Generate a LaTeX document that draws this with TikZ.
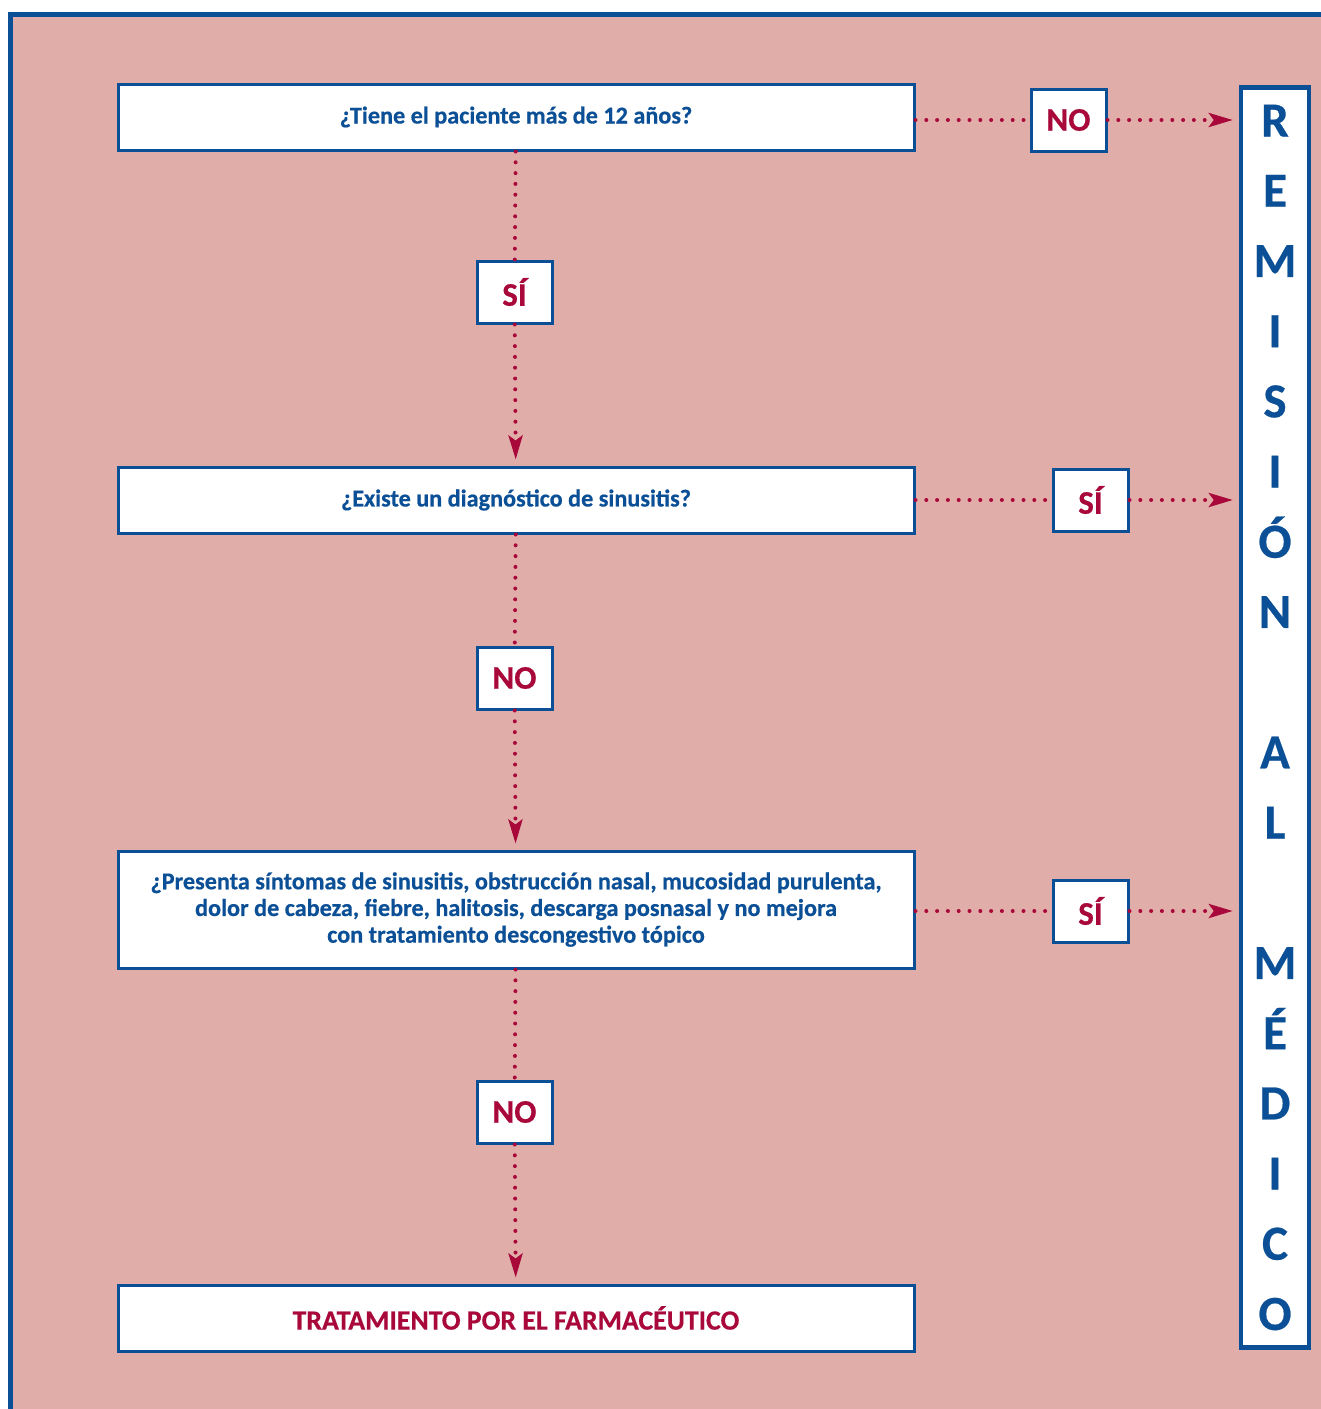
\documentclass[tikz,border=0pt]{standalone}
\usepackage{fontspec}
\setmainfont{Carlito}[BoldFeatures = {FakeBold = 0.5}]
\usetikzlibrary{arrows.meta}

\definecolor{rosa}{HTML}{E1ADA8}
\definecolor{azul}{HTML}{0B4F96}
\definecolor{rojo}{HTML}{A8083A}

\tikzset{
	pregunta/.style = {draw = azul, line width = 1.5pt, fill = white, text = azul,
		minimum width = 398pt, minimum height = 33pt, inner sep = 0pt, align = center,
		font = \bfseries\fontsize{12.1}{13.35}\selectfont},
	respuesta/.style = {draw = azul, line width = 1.5pt, fill = white, text = rojo,
		minimum width = 37.5pt, minimum height = 31pt, inner sep = 0pt,
		font = \bfseries\fontsize{16.5}{18}\selectfont},
	flecha/.style = {rojo, line width = 2pt, line cap = round, dash pattern = on 0pt off 5.4pt},
	punta/.style = {-{Stealth[length = 12pt, width = 7pt, inset = 2.5pt]}, shorten >= 3pt}
}

\begin{document}
\begin{tikzpicture} [x = 0.5pt, y = -0.5pt]
	\useasboundingbox (0,0) rectangle (1321,1409);
	% fondo y marco
	\fill [rosa] (10,14) rectangle (1321,1409);
	\draw [azul, line width = 2.5pt] (10.5,1409) -- (10.5,14.5) -- (1321,14.5);

	% preguntas
	\node [pregunta] (edad) at (516,117) {¿Tiene el paciente más de 12 años?};
	\node [pregunta] (diag) at (516,500) {¿Existe un diagnóstico de sinusitis?};
	\node [pregunta, minimum height = 58.5pt] (sint) at (516,909.5)
		{¿Presenta síntomas de sinusitis, obstrucción nasal, mucosidad purulenta,\\
		dolor de cabeza, fiebre, halitosis, descarga posnasal y no mejora\\
		con tratamiento descongestivo tópico};
	\node [pregunta, text = rojo, font = \bfseries\fontsize{13.9}{15}\selectfont] (trat) at (516,1318)
		{TRATAMIENTO POR EL FARMACÉUTICO};

	% remision
	\node [draw = azul, line width = 2.2pt, fill = white, text = azul, minimum width = 34pt,
		minimum height = 630pt, inner sep = 0pt, align = center,
		font = \bfseries\fontsize{24.5}{35.1}\selectfont] (remi) at (1275,717.5)
		{R\\E\\M\\I\\S\\I\\Ó\\N\\[35.1pt]A\\L\\[35.1pt]M\\É\\D\\I\\C\\O};

	% respuestas
	\node [respuesta] (no1) at (1068.5,120) {NO};
	\node [respuesta] (si1) at (514.5,292) {SÍ};
	\node [respuesta] (si2) at (1090.5,500) {SÍ};
	\node [respuesta] (no2) at (514.5,678) {NO};
	\node [respuesta] (si3) at (1090.5,911) {SÍ};
	\node [respuesta] (no3) at (514.5,1112) {NO};

	% conectores
	\draw [flecha] (no1 -| edad.east) -- (no1);
	\draw [flecha, punta] (no1) -- (no1 -| remi.west);
	\draw [flecha] (edad) -- (si1);
	\draw [flecha, punta] (si1) -- (diag);
	\draw [flecha] (diag) -- (si2);
	\draw [flecha, punta] (si2) -- (si2 -| remi.west);
	\draw [flecha] (diag) -- (no2);
	\draw [flecha, punta] (no2) -- (sint);
	\draw [flecha] (si3 -| sint.east) -- (si3);
	\draw [flecha, punta] (si3) -- (si3 -| remi.west);
	\draw [flecha] (sint) -- (no3);
	\draw [flecha, punta] (no3) -- (trat);
\end{tikzpicture}
\end{document}
